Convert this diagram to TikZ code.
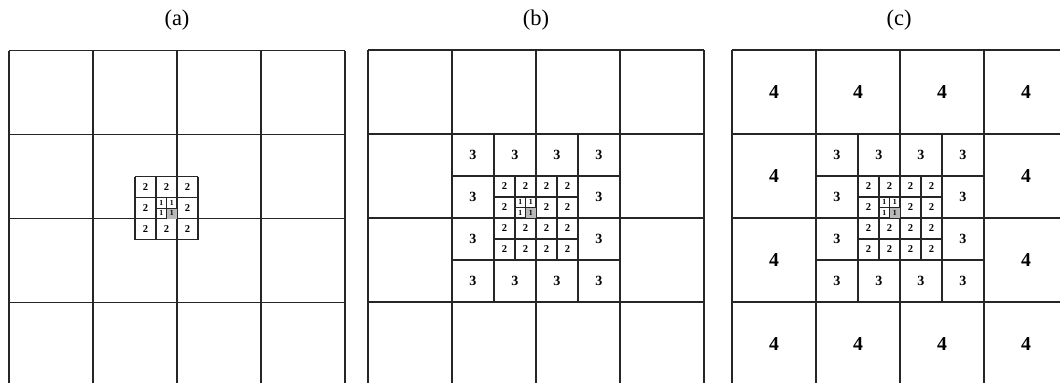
\documentclass[tikz,border=0pt]{standalone}
\usepackage{fontspec}
\setmainfont{Liberation Serif}
\usepackage{tikz}

\begin{document}
\begin{tikzpicture}[x=0.025cm,y=-0.025cm,line width=0.85pt,draw=black!85]
	\tikzstyle{panellabel}=[font=\fontsize{16}{18}\selectfont];
	\tikzstyle{lfour}=[font=\fontsize{14}{16}\selectfont\bfseries];
	\tikzstyle{lthree}=[font=\fontsize{10}{12}\selectfont\bfseries];
	\tikzstyle{ltwo}=[font=\fontsize{7.5}{9}\selectfont\bfseries,inner sep=0pt];
	\tikzstyle{lone}=[font=\fontsize{5.5}{6}\selectfont\bfseries,inner sep=0pt];
	\tikzstyle{fine}=[line width=0.6pt];
	\path[use as bounding box] (0,0) rectangle (1060,382);
	\clip (0,0) rectangle (1060,382);

	% (a)
	\begin{scope}[shift={(177,218.5)}]
		\node[panellabel] (capa) at (0,-198.5) {(a)};
		\foreach \k in {-168,-84,...,168} {
			\draw (\k,-168) -- (\k,168);
			\draw (-168,\k) -- (168,\k);
		}
		\foreach \k in {-42,-21,0,21} {
			\draw (\k,-42) -- (\k,21);
			\draw (-42,\k) -- (21,\k);
		}
		\foreach \i in {0,1,2} \foreach \j in {0,1,2} {
			\ifnum\numexpr\i*3+\j\relax=4 \else
				\node[ltwo] (a2-\i-\j) at ({-31.5+21*\i},{-31.5+21*\j}) {2};
			\fi
		}
		\fill[gray!55] (-10.5,-10.5) rectangle (0,0);
		\draw[fine] (-21,-10.5) -- (0,-10.5);
		\draw[fine] (-10.5,-21) -- (-10.5,0);
		\foreach \i in {0,1} \foreach \j in {0,1}
			\node[lone] (a1-\i-\j) at ({-15.75+10.5*\i},{-15.75+10.5*\j}) {1};
	\end{scope}

	% (b)
	\begin{scope}[shift={(536,218)}]
		\node[panellabel] (capb) at (0,-198) {(b)};
		\foreach \k in {-168,-84,...,168} {
			\draw (\k,-168) -- (\k,168);
			\draw (-168,\k) -- (168,\k);
		}
		\foreach \k in {-84,-42,...,84} {
			\draw (\k,-84) -- (\k,84);
			\draw (-84,\k) -- (84,\k);
		}
		\foreach \k in {-42,-21,...,42} {
			\draw (\k,-42) -- (\k,42);
			\draw (-42,\k) -- (42,\k);
		}
		\foreach \i in {0,...,3} \foreach \j in {0,...,3} {
			\pgfmathtruncatemacro\ring{(\i==0)||(\i==3)||(\j==0)||(\j==3)}
			\ifnum\ring=1
				\node[lthree] (b3-\i-\j) at ({-63+42*\i},{-63+42*\j}) {3};
			\fi
			\ifnum\numexpr\i*4+\j\relax=5 \else
				\node[ltwo] (b2-\i-\j) at ({-31.5+21*\i},{-31.5+21*\j}) {2};
			\fi
		}
		\fill[gray!55] (-10.5,-10.5) rectangle (0,0);
		\draw[fine] (-21,-10.5) -- (0,-10.5);
		\draw[fine] (-10.5,-21) -- (-10.5,0);
		\foreach \i in {0,1} \foreach \j in {0,1}
			\node[lone] (b1-\i-\j) at ({-15.75+10.5*\i},{-15.75+10.5*\j}) {1};
	\end{scope}

	% (c)
	\begin{scope}[shift={(900,218)}]
		\node[panellabel] (capc) at (-1,-198) {(c)};
		\foreach \k in {-168,-84,...,168} {
			\draw (\k,-168) -- (\k,168);
			\draw (-168,\k) -- (168,\k);
		}
		\foreach \k in {-84,-42,...,84} {
			\draw (\k,-84) -- (\k,84);
			\draw (-84,\k) -- (84,\k);
		}
		\foreach \k in {-42,-21,...,42} {
			\draw (\k,-42) -- (\k,42);
			\draw (-42,\k) -- (42,\k);
		}
		\foreach \i in {0,...,3} \foreach \j in {0,...,3} {
			\pgfmathtruncatemacro\ring{(\i==0)||(\i==3)||(\j==0)||(\j==3)}
			\ifnum\ring=1
				\node[lfour] (c4-\i-\j) at ({-126+84*\i},{-126+84*\j}) {4};
				\node[lthree] (c3-\i-\j) at ({-63+42*\i},{-63+42*\j}) {3};
			\fi
			\ifnum\numexpr\i*4+\j\relax=5 \else
				\node[ltwo] (c2-\i-\j) at ({-31.5+21*\i},{-31.5+21*\j}) {2};
			\fi
		}
		\fill[gray!55] (-10.5,-10.5) rectangle (0,0);
		\draw[fine] (-21,-10.5) -- (0,-10.5);
		\draw[fine] (-10.5,-21) -- (-10.5,0);
		\foreach \i in {0,1} \foreach \j in {0,1}
			\node[lone] (c1-\i-\j) at ({-15.75+10.5*\i},{-15.75+10.5*\j}) {1};
	\end{scope}
\end{tikzpicture}
\end{document}
